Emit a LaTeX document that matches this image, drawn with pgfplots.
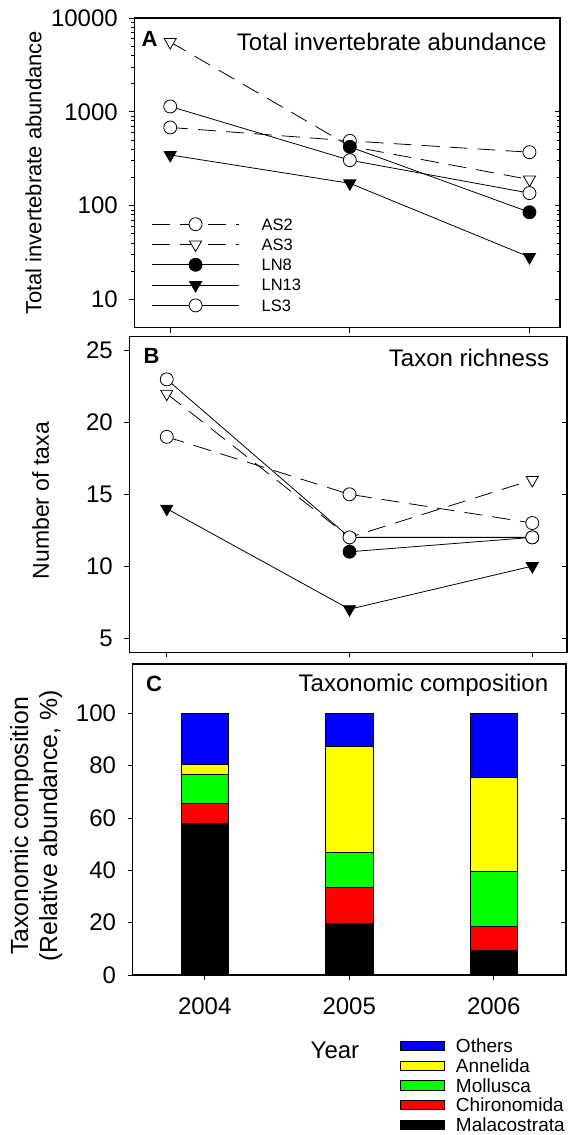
\documentclass[border=0pt]{standalone}
\usepackage{fontspec}
\setmainfont{Liberation Sans}
\usepackage{pgfplots}
\pgfplotsset{compat=1.18}

\definecolor{othblue}{RGB}{0,0,255}
\definecolor{annyel}{RGB}{255,255,0}
\definecolor{molgrn}{RGB}{0,255,0}
\definecolor{chired}{RGB}{255,0,0}

\newcommand{\fbig}{\fontsize{24}{29}\selectfont}
\newcommand{\flega}{\fontsize{16.5}{19}\selectfont}
\newcommand{\flegc}{\fontsize{19}{21}\selectfont}

\pgfplotsset{
  panel/.style={scale only axis, axis line style={line width=1.1pt},
    every tick/.style={black, line width=0.8pt}, major tick length=5pt,
    tick align=outside, xtick pos=bottom, ytick pos=left,
    ticklabel style={font=\fbig}, label style={font=\fbig},
    yticklabel style={xshift=-8pt}, xticklabel style={yshift=-14pt},
    xtick={2004,2005,2006}},
  rticks/.style={scale only axis, axis line style={draw=none},
    every tick/.style={black, line width=0.8pt}, major tick length=5pt,
    tick align=inside, ytick pos=right, xtick=\empty, yticklabels={}},
  ser/.style={black, line width=0.8pt},
  dsh/.style={dash pattern=on 18pt off 10pt},
  ocirc/.style={mark=*, mark size=6.5pt, mark options={solid, line width=0.8pt, fill=white}},
  fcirc/.style={mark=*, mark size=6.5pt, mark options={solid, line width=0.8pt, fill=black}},
  otri/.style={mark=triangle*, mark size=7pt, mark options={solid, line width=0.8pt, fill=white, rotate=180}},
  ftri/.style={mark=triangle*, mark size=7pt, mark options={solid, line width=0.8pt, fill=black, rotate=180}},
}

\begin{document}
\begin{tikzpicture}
\useasboundingbox (0pt,0pt) rectangle (568pt,1135pt);

% A: total abundance
\begin{axis}[panel, at={(134.3pt,807.3pt)}, anchor=south west,
  width=425.7pt, height=309.7pt, xmin=2003.8, xmax=2006.17,
  ymode=log, ymin=5, ymax=10000, ytick={10,100,1000,10000},
  yticklabels={10,100,1000,10000}, xticklabels={},
  ylabel={Total invertebrate abundance},
  ylabel style={font=\fontsize{22}{26}\selectfont, at={(axis description cs:-0.237,0.5)}, anchor=center},
  legend cell align=left,
  legend style={draw=none, fill=none, at={(axis description cs:0.0406,0.3676)},
    anchor=north west, inner sep=0pt, row sep=0pt, font=\flega,
    nodes={inner sep=0pt, text height=16.05pt, text depth=4.25pt},
    /tikz/every odd column/.append style={column sep=22.3pt}},
  legend image code/.code={\draw[mark repeat=2, mark phase=2, #1]
    plot coordinates {(0pt,0pt) (43.4pt,0pt) (86.7pt,0pt)};}]
\addplot[ser, dsh, ocirc] coordinates {(2004,681) (2005,490) (2006,371)};
\addlegendentry{AS2}
\addplot[ser, dsh, otri] coordinates {(2004,5546) (2005,430) (2006,190)};
\addlegendentry{AS3}
\addplot[ser, fcirc] coordinates {(2005,423) (2006,85)};
\addlegendentry{LN8}
\addplot[ser, ftri] coordinates {(2004,347) (2005,173) (2006,28.3)};
\addlegendentry{LN13}
\addplot[ser, ocirc] coordinates {(2004,1140) (2005,305) (2006,136)};
\addlegendentry{LS3}
\node[anchor=base west, font=\fontsize{22}{26}\selectfont\bfseries] at (rel axis cs:0.009,0.907) {A};
\node[anchor=base east, font=\fbig] at (rel axis cs:0.9765,0.894) {Total invertebrate abundance};
\end{axis}
\begin{axis}[rticks, at={(134.3pt,807.3pt)}, anchor=south west,
  width=425.7pt, height=309.7pt, xmin=2003.8, xmax=2006.17,
  ymode=log, ymin=5, ymax=10000, ytick={10,100,1000}]
\end{axis}

% B: taxon richness
\begin{axis}[panel, at={(129.3pt,482.7pt)}, anchor=south west,
  width=437.7pt, height=316pt, xmin=2003.795, xmax=2006.19,
  ymin=4, ymax=26, ytick={5,10,15,20,25},
  yticklabels={5,10,15,20,25}, xticklabels={},
  ylabel={Number of taxa},
  ylabel style={font=\fontsize{23}{28}\selectfont, at={(axis description cs:-0.2027,0.48)}, anchor=center}]
\addplot[ser, dsh, ocirc] coordinates {(2004,19) (2005,15) (2006,13)};
\addplot[ser, dsh, otri] coordinates {(2004,22) (2005,12) (2006,16)};
\addplot[ser, fcirc] coordinates {(2005,11) (2006,12)};
\addplot[ser, ftri] coordinates {(2004,14) (2005,7) (2006,10)};
\addplot[ser, ocirc] coordinates {(2004,23) (2005,12) (2006,12)};
\node[anchor=base west, font=\fontsize{22}{26}\selectfont\bfseries] at (rel axis cs:0.0245,0.915) {B};
\node[anchor=base east, font=\fbig] at (rel axis cs:0.967,0.905) {Taxon richness};
\end{axis}
\begin{axis}[rticks, at={(129.3pt,482.7pt)}, anchor=south west,
  width=437.7pt, height=316pt, xmin=2003.795, xmax=2006.19,
  ymin=4, ymax=26, ytick={5,10,15,20}]
\end{axis}

% C: taxonomic composition
\begin{axis}[panel, at={(132.5pt,160pt)}, anchor=south west,
  width=433.5pt, height=311pt, xmin=2003.5, xmax=2006.5,
  ymin=0, ymax=118.8, ytick={0,20,40,60,80,100},
  yticklabels={0,20,40,60,80,100}, xticklabels={2004,2005,2006},
  ybar stacked, bar width=47.5pt,
  xlabel={Year},
  xlabel style={at={(axis description cs:0.467,-0.267)}, anchor=base},
  ylabel={Taxonomic composition\\(Relative abundance, \%)},
  ylabel style={font=\fontsize{24.8}{29}\selectfont, align=center, at={(axis description cs:-0.2224,0.479)}, anchor=center},
  reverse legend, legend cell align=left,
  legend style={draw=none, fill=none, at={(axis description cs:0.617,-0.196)},
    anchor=north west, inner sep=0pt, row sep=0pt, font=\flegc,
    nodes={inner sep=0pt, text height=16.7pt, text depth=3pt},
    /tikz/every odd column/.append style={column sep=11pt}},
  legend image code/.code={\draw[#1, line width=0.8pt] (0pt,-4.7pt) rectangle (44pt,4.7pt);}]
\addplot[draw=black, line width=0.8pt, fill=black] coordinates {(2004,57.8) (2005,19.6) (2006,9.3)};
\addlegendentry{Malacostrata}
\addplot[draw=black, line width=0.8pt, fill=chired] coordinates {(2004,7.8) (2005,14.0) (2006,9.4)};
\addlegendentry{Chironomida}
\addplot[draw=black, line width=0.8pt, fill=molgrn] coordinates {(2004,11.1) (2005,13.2) (2006,21.0)};
\addlegendentry{Mollusca}
\addplot[draw=black, line width=0.8pt, fill=annyel] coordinates {(2004,3.8) (2005,40.6) (2006,35.9)};
\addlegendentry{Annelida}
\addplot[draw=black, line width=0.8pt, fill=othblue] coordinates {(2004,19.5) (2005,12.6) (2006,24.4)};
\addlegendentry{Others}
\node[anchor=base west, font=\fontsize{22}{26}\selectfont\bfseries] at (rel axis cs:0.023,0.91) {C};
\node[anchor=base east, font=\fbig] at (rel axis cs:0.967,0.91) {Taxonomic composition};
\end{axis}
\begin{axis}[rticks, at={(132.5pt,160pt)}, anchor=south west,
  width=433.5pt, height=311pt, xmin=2003.5, xmax=2006.5,
  ymin=0, ymax=118.8, ytick={20,40,60,80,100}]
\end{axis}
\end{tikzpicture}
\end{document}
